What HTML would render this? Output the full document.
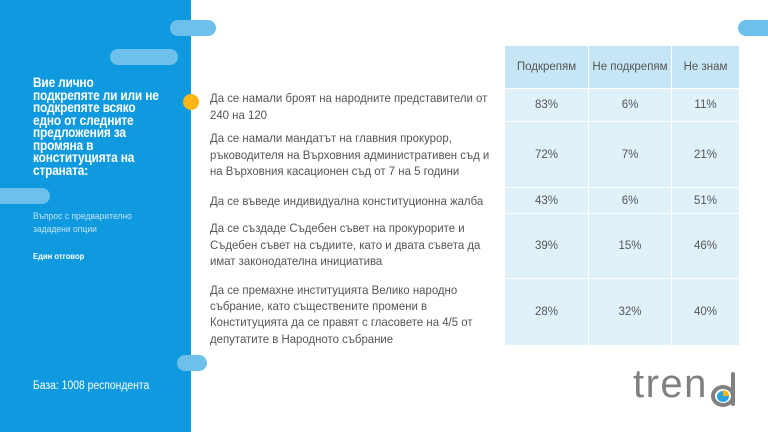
<!DOCTYPE html>
<html><head><meta charset="utf-8"><style>
*{margin:0;padding:0;box-sizing:border-box}
body{width:768px;height:432px;position:relative;background:#fff;overflow:hidden;font-family:"Liberation Sans",sans-serif}
.blue{position:absolute;left:0;top:0;width:191px;height:432px;background:#0f9ae0}
.pill{position:absolute;height:16px;border-radius:8px;background:#6cc0ea}
.t{position:absolute;white-space:nowrap;transform-origin:0 0}
.q{color:#fff;font-weight:bold;font-size:14px;line-height:12.5px;left:33px;top:76px;letter-spacing:-0.2px;transform:scaleX(0.85)}
.l{color:#555;font-size:12.4px;left:210px;transform:scaleX(0.92)}
.cell{position:absolute;display:flex;align-items:center;justify-content:center;font-size:11.5px;color:#555}
.h{background:#c6e6f5}
.r{background:#e0f1fa}
</style></head><body>
<div class="blue"></div>
<div class="pill" style="left:170px;top:20px;width:46px"></div>
<div class="pill" style="left:110px;top:49px;width:68px"></div>
<div class="pill" style="left:-8px;top:188px;width:58px"></div>
<div class="pill" style="left:177px;top:355px;width:30px"></div>
<div class="pill" style="left:738px;top:20px;width:40px"></div>
<div class="t q">Вие лично<br>подкрепяте ли или не<br>подкрепяте всяко<br>едно от следните<br>предложения за<br>промяна в<br>конституцията на<br>страната:</div>
<div class="t" style="left:33px;top:211px;color:#bfe3f7;font-size:9.5px;line-height:12.5px;transform:scaleX(0.9)">Въпрос с предварително<br>зададени опции</div>
<div class="t" style="left:33px;top:251px;color:#fff;font-size:8.5px;font-weight:bold;transform:scaleX(0.9)">Един отговор</div>
<div class="t" style="left:33px;top:380px;color:#fff;font-size:11.5px;transform:scaleX(0.9)">База: 1008 респондента</div>
<div style="position:absolute;left:183px;top:94px;width:16px;height:16px;border-radius:50%;background:#fbb515"></div>
<div class="t l" style="top:90px;line-height:16.5px">Да се намали броят на народните представители от<br>240 на 120</div>
<div class="t l" style="top:130px;line-height:16.5px">Да се намали мандатът на главния прокурор,<br>ръководителя на Върховния административен съд и<br>на Върховния касационен съд от 7 на 5 години</div>
<div class="t l" style="top:193px;line-height:16.5px">Да се въведе индивидуална конституционна жалба</div>
<div class="t l" style="top:220px;line-height:16.5px">Да се създаде Съдебен съвет на прокурорите и<br>Съдебен съвет на съдиите, като и двата съвета да<br>имат законодателна инициатива</div>
<div class="t l" style="top:282px;line-height:16.2px">Да се премахне институцията Велико народно<br>събрание, като съществените промени в<br>Конституцията да се правят с гласовете на 4/5 от<br>депутатите в Народното събрание</div>
<div class="cell h" style="left:505px;top:46px;width:83px;height:42px">Подкрепям</div>
<div class="cell h" style="left:589px;top:46px;width:82px;height:42px">Не подкрепям</div>
<div class="cell h" style="left:672px;top:46px;width:67px;height:42px">Не знам</div>
<div class="cell r" style="left:505px;top:89px;width:83px;height:32px">83%</div>
<div class="cell r" style="left:589px;top:89px;width:82px;height:32px">6%</div>
<div class="cell r" style="left:672px;top:89px;width:67px;height:32px">11%</div>
<div class="cell r" style="left:505px;top:122px;width:83px;height:65px">72%</div>
<div class="cell r" style="left:589px;top:122px;width:82px;height:65px">7%</div>
<div class="cell r" style="left:672px;top:122px;width:67px;height:65px">21%</div>
<div class="cell r" style="left:505px;top:188px;width:83px;height:25px">43%</div>
<div class="cell r" style="left:589px;top:188px;width:82px;height:25px">6%</div>
<div class="cell r" style="left:672px;top:188px;width:67px;height:25px">51%</div>
<div class="cell r" style="left:505px;top:214px;width:83px;height:64px">39%</div>
<div class="cell r" style="left:589px;top:214px;width:82px;height:64px">15%</div>
<div class="cell r" style="left:672px;top:214px;width:67px;height:64px">46%</div>
<div class="cell r" style="left:505px;top:279px;width:83px;height:66px">28%</div>
<div class="cell r" style="left:589px;top:279px;width:82px;height:66px">32%</div>
<div class="cell r" style="left:672px;top:279px;width:67px;height:66px">40%</div>
<div class="t" style="left:633px;top:364px;font-size:40px;color:#808080;letter-spacing:1.5px;line-height:40px">tren</div>
<div style="position:absolute;left:711px;top:385px;width:24px;height:22px;border:4px solid #808080;border-radius:50%"></div>
<div style="position:absolute;left:731px;top:372px;width:4px;height:34px;background:#808080;border-radius:2px"></div>
<div style="position:absolute;left:717px;top:391px;width:12px;height:11px;border-radius:50%;background:#2aa3e0"></div>
<div style="position:absolute;left:723px;top:390px;width:6px;height:6px;background:#fbb515;border-radius:0 6px 0 0"></div>
</body></html>
